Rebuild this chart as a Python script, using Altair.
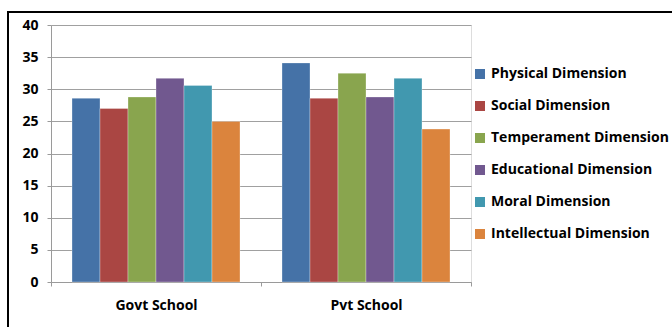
import altair as alt
import pandas as pd

schools = ["Govt School", "Pvt School"]
dimensions = ["Physical Dimension", "Social Dimension", "Temperament Dimension",
              "Educational Dimension", "Moral Dimension", "Intellectual Dimension"]
govt_values = [28.6, 27.0, 28.8, 31.7, 30.6, 25.0]
pvt_values = [34.1, 28.6, 32.5, 28.8, 31.7, 23.8]
colors = ["#4572A7", "#AA4643", "#89A54E", "#71588F", "#4198AF", "#DB843D"]

rows = []
for d, g, p in zip(dimensions, govt_values, pvt_values):
    rows.append({"school": schools[0], "dimension": d, "value": g})
    rows.append({"school": schools[1], "dimension": d, "value": p})
df = pd.DataFrame(rows)

FONT = "Open Sans"
FS = 14

bars = alt.Chart(df).mark_bar(stroke="#ffffff", strokeWidth=0.6, strokeOpacity=0.5).encode(
    x=alt.X("school:N", sort=schools, title=None,
            scale=alt.Scale(paddingInner=0, paddingOuter=0),
            axis=alt.Axis(labelAngle=0, tickBand="extent", domainColor="#9a9a9a",
                          tickColor="#9a9a9a", tickSize=4, labelPadding=12,
                          labelFont=FONT, labelFontSize=FS, labelFontWeight="bold",
                          labelColor="#000000", grid=False)),
    xOffset=alt.XOffset("dimension:N", sort=dimensions,
                        scale=alt.Scale(paddingInner=0, paddingOuter=0.75)),
    y=alt.Y("value:Q", title=None,
            scale=alt.Scale(domain=[0, 40], nice=False),
            axis=alt.Axis(values=[0, 5, 10, 15, 20, 25, 30, 35, 40], tickSize=4,
                          domainColor="#9a9a9a", tickColor="#9a9a9a",
                          gridColor="#a0a0a0", gridWidth=1, labelPadding=9,
                          labelFont=FONT, labelFontSize=FS, labelFontWeight="bold",
                          labelColor="#000000")),
    color=alt.Color("dimension:N", sort=dimensions,
                    scale=alt.Scale(domain=dimensions, range=colors),
                    legend=alt.Legend(title=None, orient="none", legendX=422, legendY=42,
                                      symbolType="square", symbolSize=100,
                                      symbolStrokeWidth=0, padding=0,
                                      labelFont=FONT, labelFontSize=FS,
                                      labelFontWeight="bold", labelColor="#000000",
                                      rowPadding=18, labelOffset=4, labelLimit=300)),
)

border_top = alt.Chart(df).mark_rule(color="#000000", strokeWidth=2).encode(
    x=alt.value(-43), x2=alt.value(640), y=alt.value(-13))
border_left = alt.Chart(df).mark_rule(color="#000000", strokeWidth=2).encode(
    x=alt.value(-43), y=alt.value(-14), y2=alt.value(320))

chart = alt.layer(bars, border_top, border_left).properties(
    width=420, height=257,
    padding={"left": 51, "top": 25, "right": 201, "bottom": 45},
    autosize=alt.AutoSizeParams(type="none"),
).configure_view(stroke=None).configure(background="#ffffff")

chart.save("out.html", embed_options={"renderer": "svg", "actions": False})
